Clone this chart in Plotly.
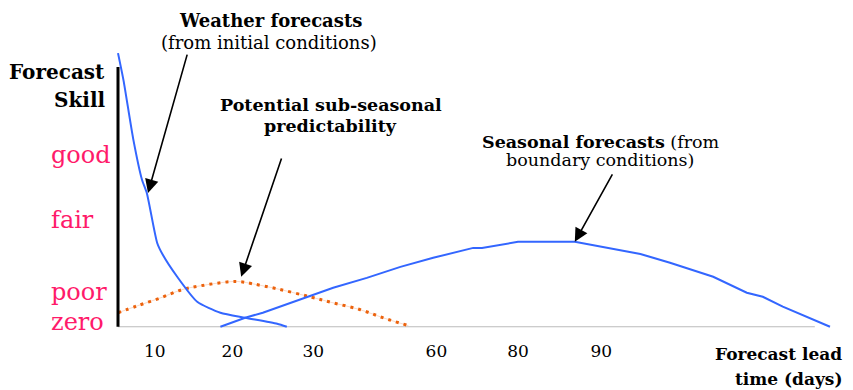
import plotly.graph_objects as go

# ---- data (x = display position along lead-time axis, y = skill level) ----
weather_x = [0.00, 0.07, 0.19, 0.30, 0.36, 0.49, 0.56, 0.74, 0.99, 1.28, 1.59, 1.99, 2.11]
weather_y = [9.96, 8.95, 6.84, 5.35, 4.87, 3.05, 2.62, 1.82, 0.91, 0.51, 0.33, 0.11, 0.00]

seasonal_x = [1.28, 1.59, 1.81, 2.40, 2.69, 3.11, 3.53, 3.94, 4.44, 4.55, 5.00, 5.71,
              6.11, 6.53, 6.90, 7.44, 7.86, 8.06, 8.31, 8.90]
seasonal_y = [0.00, 0.33, 0.51, 1.13, 1.42, 1.78, 2.18, 2.51, 2.87, 2.87, 3.09, 3.09,
              2.87, 2.65, 2.33, 1.82, 1.24, 1.09, 0.73, 0.00]

subseasonal_x = [0.00, 0.24, 0.53, 0.80, 1.03, 1.40, 1.53, 1.69, 1.99, 2.40, 2.69, 3.03, 3.31, 3.63]
subseasonal_y = [0.51, 0.76, 1.05, 1.35, 1.49, 1.64, 1.64, 1.56, 1.38, 1.09, 0.87, 0.62, 0.33, 0.04]

tick_pos = [0.46, 1.43, 2.44, 3.98, 5.00, 6.04]
tick_labels = ["10", "20", "30", "60", "80", "90"]

skill_labels = ["good", "fair", "poor", "zero"]
skill_pos = [6.25, 3.89, 1.27, 0.18]

BLUE = "#3366ff"
ORANGE = "#ec620c"
PINK = "#ff1a6a"
FONT = "DejaVu Serif"

XR = [-0.1, 8.95]
YR = [-0.3, 10.0]

def px(u):
    return (u - XR[0]) / (XR[1] - XR[0])

def py(s):
    return (s - YR[0]) / (YR[1] - YR[0])

fig = go.Figure()

fig.add_trace(go.Scatter(x=subseasonal_x, y=subseasonal_y, mode="lines",
                         line=dict(color="rgba(240,150,100,0.35)", width=1, shape="spline"),
                         hoverinfo="skip", showlegend=False))
fig.add_trace(go.Scatter(x=subseasonal_x, y=subseasonal_y, mode="lines",
                         line=dict(color=ORANGE, width=3, dash="3px,5px", shape="spline"),
                         showlegend=False))
fig.add_trace(go.Scatter(x=weather_x, y=weather_y, mode="lines",
                         line=dict(color=BLUE, width=2, shape="spline", smoothing=0.6),
                         showlegend=False))
fig.add_trace(go.Scatter(x=seasonal_x, y=seasonal_y, mode="lines",
                         line=dict(color=BLUE, width=2),
                         showlegend=False))

# axis lines
fig.add_shape(type="line", x0=0, x1=8.71, y0=0, y1=0, xref="x", yref="y",
              line=dict(color="#bbbbbb", width=1), layer="below")
fig.add_shape(type="line", x0=0, x1=0, y0=0, y1=9.45, xref="x", yref="y",
              line=dict(color="black", width=3))

ann = []
def txt(x, y, t, size, xanchor="center", color="black"):
    ann.append(dict(x=px(x), y=py(y), xref="paper", yref="paper", text=t, showarrow=False,
                    xanchor=xanchor, yanchor="middle",
                    font=dict(family=FONT, size=size, color=color)))

txt(1.91, 11.16, "<b>Weather forecasts</b>", 18)
txt(1.89, 10.36, "(from initial conditions)", 18)
txt(-0.14, 9.27, "<b>Forecast</b>", 20, xanchor="right")
txt(-0.14, 8.25, "<b>Skill</b>", 20, xanchor="right")
txt(2.66, 8.07, "<b>Potential sub-seasonal</b>", 17.5)
txt(2.66, 7.31, "<b>predictability</b>", 17.5)
txt(6.04, 6.73, "<b>Seasonal forecasts</b> (from", 17.5)
txt(6.03, 6.07, "boundary conditions)", 17.5)
txt(9.08, -0.98, "<b>Forecast lead</b>", 17, xanchor="right")
txt(9.08, -1.89, "<b>time (days)</b>", 17, xanchor="right")

for lab, pos in zip(skill_labels, skill_pos):
    txt(-0.86, pos, lab, 24, xanchor="left", color=PINK)

# arrows: (head x, head y, tail x, tail y)
arrows = [(0.375, 4.87, 0.87, 9.96), (1.54, 1.82, 2.05, 6.18), (5.71, 3.09, 6.19, 5.6)]
for hx, hy, tx, ty in arrows:
    ann.append(dict(x=hx, y=hy, ax=tx, ay=ty, xref="x", yref="y", axref="x", ayref="y",
                    text="", showarrow=True, arrowhead=2, arrowsize=1.7, arrowwidth=1.6,
                    arrowcolor="black", standoff=0))

# page body has an 8px margin: figure is 845x382 placed at (8,8)
fig.update_layout(
    width=845, height=382,
    margin=dict(l=102, r=19, t=44, b=55),
    plot_bgcolor="white", paper_bgcolor="white",
    annotations=ann,
    xaxis=dict(range=XR, showgrid=False, zeroline=False, showline=False,
               tickvals=tick_pos, ticktext=tick_labels, ticks="",
               tickfont=dict(family=FONT, size=17, color="black"),
               ticklabelstandoff=4),
    yaxis=dict(range=YR, showgrid=False, zeroline=False, showline=False,
               showticklabels=False, ticks=""),
)

fig.write_html("out.html")
